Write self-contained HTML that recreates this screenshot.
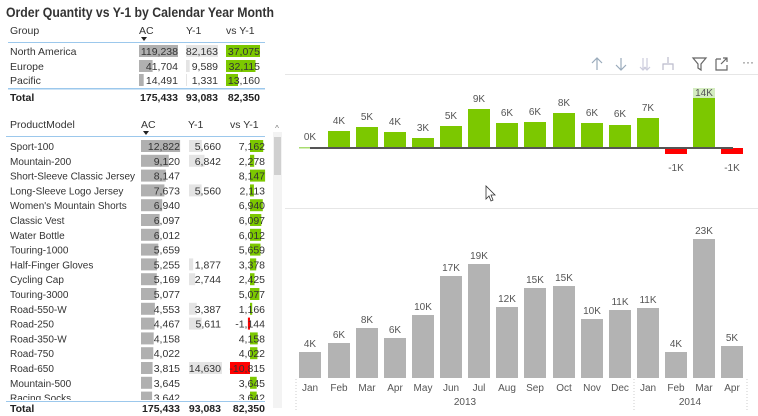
<!DOCTYPE html>
<html><head><meta charset="utf-8"><style>
html,body{margin:0;padding:0;background:#fff;}
svg{display:block;font-family:"Liberation Sans",sans-serif;}
.t{font-size:10.5px;fill:#333;}
.n{font-size:10px;fill:#333;}
.r{text-anchor:end;}
.b{font-weight:bold;fill:#222;}
.l{font-size:10px;fill:#555;text-anchor:middle;}
.ac{fill:#b0b0b0;}
.y1{fill:#e4e4e4;}
.g{fill:#7cc800;}
.rd{fill:#f00;}
</style></head><body>
<svg width="758" height="416" viewBox="0 0 758 416">
<text x="6" y="17" font-size="13.5" font-weight="bold" fill="#333" textLength="268" lengthAdjust="spacingAndGlyphs">Order Quantity vs Y-1 by Calendar Year Month</text>
<text class="t" x="10" y="34">Group</text><text class="t" x="139" y="34">AC</text><text class="t" x="186" y="34">Y-1</text><text class="t" x="226" y="34">vs Y-1</text>
<path d="M141 37 l6 0 l-3 4z" fill="#222"/>
<rect x="8" y="42" width="257" height="1" fill="#9cc8ec"/>
<rect class="ac" x="139" y="45" width="39" height="12"/><rect class="y1" x="186" y="45" width="32" height="12"/><rect class="g" x="226" y="45" width="34" height="12"/>
<rect class="ac" x="139" y="60" width="13.6" height="12"/><rect class="y1" x="186" y="60" width="3.7" height="12"/><rect class="g" x="226" y="60" width="29.5" height="12"/>
<rect class="ac" x="139" y="74" width="4.7" height="12"/><rect class="y1" x="186" y="74" width="1" height="12"/><rect class="g" x="226" y="74" width="12" height="12"/>
<text class="t" x="10" y="55">North America</text><text class="t r" x="178" y="55">119,238</text><text class="t r" x="218" y="55">82,163</text><text class="t r" x="260" y="55">37,075</text>
<text class="t" x="10" y="70">Europe</text><text class="t r" x="178" y="70">41,704</text><text class="t r" x="218" y="70">9,589</text><text class="t r" x="260" y="70">32,115</text>
<text class="t" x="10" y="84">Pacific</text><text class="t r" x="178" y="84">14,491</text><text class="t r" x="218" y="84">1,331</text><text class="t r" x="260" y="84">13,160</text>
<rect x="8" y="88" width="257" height="1.5" fill="#9cc8ec"/>
<text class="t b" x="10" y="101">Total</text><text class="t b r" x="178" y="101">175,433</text><text class="t b r" x="218" y="101">93,083</text><text class="t b r" x="260" y="101">82,350</text>
<text class="t" x="10" y="128">ProductModel</text><text class="t" x="141" y="128">AC</text><text class="t" x="188" y="128">Y-1</text><text class="t" x="230" y="128">vs Y-1</text>
<path d="M143 131 l6 0 l-3 4z" fill="#222"/>
<rect x="6" y="136" width="259" height="1" fill="#9cc8ec"/>
<rect x="273" y="132" width="9" height="276" fill="#f3f3f3"/><rect x="274" y="137" width="7" height="38" fill="#d0d0d0"/>
<text x="277" y="131" font-size="8" fill="#777" text-anchor="middle">^</text>
<defs><clipPath id="c"><rect x="0" y="138" width="272" height="262"/></clipPath></defs>
<g clip-path="url(#c)">
<g class="ac">
<rect x="141" y="140" width="39.1" height="12"/><rect x="141" y="154.8" width="27.8" height="12"/><rect x="141" y="169.6" width="24.8" height="12"/><rect x="141" y="184.4" width="23.4" height="12"/><rect x="141" y="199.2" width="21.2" height="12"/><rect x="141" y="214" width="18.6" height="12"/><rect x="141" y="228.8" width="18.3" height="12"/><rect x="141" y="243.6" width="17.3" height="12"/><rect x="141" y="258.4" width="16" height="12"/><rect x="141" y="273.2" width="15.8" height="12"/><rect x="141" y="288" width="15.5" height="12"/><rect x="141" y="302.8" width="13.9" height="12"/><rect x="141" y="317.6" width="13.6" height="12"/><rect x="141" y="332.4" width="12.7" height="12"/><rect x="141" y="347.2" width="12.3" height="12"/><rect x="141" y="362" width="11.6" height="12"/><rect x="141" y="376.8" width="11.1" height="12"/><rect x="141" y="391.6" width="11.1" height="12"/>
</g>
<g class="y1">
<rect x="189" y="140" width="12.8" height="12"/><rect x="189" y="154.8" width="15.5" height="12"/><rect x="189" y="184.4" width="12.6" height="12"/><rect x="189" y="258.4" width="4.2" height="12"/><rect x="189" y="273.2" width="6.2" height="12"/><rect x="189" y="302.8" width="7.7" height="12"/><rect x="189" y="317.6" width="12.7" height="12"/><rect x="189" y="362" width="33" height="12"/>
</g>
<g class="g">
<rect x="250" y="140" width="13.2" height="12"/><rect x="250" y="154.8" width="4.2" height="12"/><rect x="250" y="169.6" width="15.1" height="12"/><rect x="250" y="184.4" width="3.9" height="12"/><rect x="250" y="199.2" width="12.8" height="12"/><rect x="250" y="214" width="11.3" height="12"/><rect x="250" y="228.8" width="11.1" height="12"/><rect x="250" y="243.6" width="10.5" height="12"/><rect x="250" y="258.4" width="6.2" height="12"/><rect x="250" y="273.2" width="4.5" height="12"/><rect x="250" y="288" width="9.4" height="12"/><rect x="250" y="302.8" width="2.2" height="12"/><rect x="250" y="332.4" width="7.7" height="12"/><rect x="250" y="347.2" width="7.4" height="12"/><rect x="250" y="376.8" width="6.7" height="12"/><rect x="250" y="391.6" width="6.7" height="12"/>
</g>
<rect class="rd" x="247.9" y="317.6" width="2.1" height="12"/><rect class="rd" x="230" y="362" width="20" height="12"/>
<g class="n">
<text x="10" y="150">Sport-100</text><text x="10" y="164.8">Mountain-200</text><text x="10" y="179.6">Short-Sleeve Classic Jersey</text><text x="10" y="194.4">Long-Sleeve Logo Jersey</text><text x="10" y="209.2">Women's Mountain Shorts</text><text x="10" y="224">Classic Vest</text><text x="10" y="238.8">Water Bottle</text><text x="10" y="253.6">Touring-1000</text><text x="10" y="268.4">Half-Finger Gloves</text><text x="10" y="283.2">Cycling Cap</text><text x="10" y="298">Touring-3000</text><text x="10" y="312.8">Road-550-W</text><text x="10" y="327.6">Road-250</text><text x="10" y="342.4">Road-350-W</text><text x="10" y="357.2">Road-750</text><text x="10" y="372">Road-650</text><text x="10" y="386.8">Mountain-500</text><text x="10" y="401.6">Racing Socks</text>
</g>
<g class="t r">
<text x="180" y="150">12,822</text><text x="180" y="164.8">9,120</text><text x="180" y="179.6">8,147</text><text x="180" y="194.4">7,673</text><text x="180" y="209.2">6,940</text><text x="180" y="224">6,097</text><text x="180" y="238.8">6,012</text><text x="180" y="253.6">5,659</text><text x="180" y="268.4">5,255</text><text x="180" y="283.2">5,169</text><text x="180" y="298">5,077</text><text x="180" y="312.8">4,553</text><text x="180" y="327.6">4,467</text><text x="180" y="342.4">4,158</text><text x="180" y="357.2">4,022</text><text x="180" y="372">3,815</text><text x="180" y="386.8">3,645</text><text x="180" y="401.6">3,642</text>
<text x="221" y="150">5,660</text><text x="221" y="164.8">6,842</text><text x="221" y="194.4">5,560</text><text x="221" y="268.4">1,877</text><text x="221" y="283.2">2,744</text><text x="221" y="312.8">3,387</text><text x="221" y="327.6">5,611</text><text x="221" y="372">14,630</text>
<text x="265" y="150">7,162</text><text x="265" y="164.8">2,278</text><text x="265" y="179.6">8,147</text><text x="265" y="194.4">2,113</text><text x="265" y="209.2">6,940</text><text x="265" y="224">6,097</text><text x="265" y="238.8">6,012</text><text x="265" y="253.6">5,659</text><text x="265" y="268.4">3,378</text><text x="265" y="283.2">2,425</text><text x="265" y="298">5,077</text><text x="265" y="312.8">1,166</text><text x="265" y="327.6">-1,144</text><text x="265" y="342.4">4,158</text><text x="265" y="357.2">4,022</text><text x="265" y="372">-10,815</text><text x="265" y="386.8">3,645</text><text x="265" y="401.6">3,642</text>
</g>
</g>
<rect x="6" y="401" width="259" height="1" fill="#9cc8ec"/>
<text class="t b" x="10" y="412">Total</text><text class="t b r" x="180" y="412">175,433</text><text class="t b r" x="221" y="412">93,083</text><text class="t b r" x="265" y="412">82,350</text>
<g stroke="#9ab" stroke-width="1.2" fill="none">
<path d="M597 58 v12 M592 63 l5 -5 l5 5"/><path d="M621 58 v12 M616 65 l5 5 l5 -5"/>
<path d="M643 58 v12 M647 58 v12 M640 67 l3 3 l3 -3 M644 67 l3 3 l3 -3" stroke="#ccd"/>
<path d="M668 57 v6 M663 70 v-6 h10 v6" stroke="#bbc"/>
<path d="M693 58 h13 l-5 6 v6 l-3 -2 v-4z" stroke="#666"/>
<path d="M716 59 h5 M716 59 v11 h11 v-5 M721 64 l6 -6 M723 58 h4 v4" stroke="#666"/>
</g>
<text x="748" y="66" font-size="12" fill="#666" text-anchor="middle">···</text>
<rect x="285" y="74" width="473" height="1" fill="#e6e6e6"/>
<rect x="285" y="208" width="473" height="1" fill="#e6e6e6"/>
<rect x="299" y="147" width="11" height="1.5" fill="#a8dc70"/>
<g class="g">
<rect x="328" y="131" width="22" height="17"/><rect x="356" y="127" width="22" height="21"/><rect x="384" y="132" width="22" height="16"/><rect x="412" y="138" width="22" height="10"/><rect x="440" y="126" width="22" height="22"/><rect x="468" y="109" width="22" height="39"/><rect x="496" y="123" width="22" height="25"/><rect x="524" y="122" width="22" height="26"/><rect x="553" y="113" width="22" height="35"/><rect x="581" y="123" width="22" height="25"/><rect x="609" y="125" width="22" height="23"/><rect x="637" y="118" width="22" height="30"/><rect x="693" y="98" width="22" height="50"/>
</g>
<rect x="693" y="88" width="22" height="10" fill="#d4ecc0"/>
<rect class="rd" x="665" y="148" width="22" height="6"/><rect class="rd" x="721" y="148" width="22" height="6"/>
<rect x="310" y="147" width="423" height="2" fill="#555"/>
<g class="l">
<text x="310" y="140">0K</text><text x="339" y="124">4K</text><text x="367" y="120">5K</text><text x="395" y="125">4K</text><text x="423" y="131">3K</text><text x="451" y="119">5K</text><text x="479" y="102">9K</text><text x="507" y="116">6K</text><text x="535" y="115">6K</text><text x="564" y="106">8K</text><text x="592" y="116">6K</text><text x="620" y="117">6K</text><text x="648" y="111">7K</text><text x="676" y="171">-1K</text><text x="704" y="96">14K</text><text x="732" y="171">-1K</text>
</g>
<path d="M486 186 v13 l3 -3 l2 5 l2 -1 l-2 -5 h4z" fill="#fff" stroke="#333" stroke-width="0.8"/>
<g fill="#b3b3b3">
<rect x="299" y="352" width="22" height="26"/><rect x="328" y="343" width="22" height="35"/><rect x="356" y="328" width="22" height="50"/><rect x="384" y="338" width="22" height="40"/><rect x="412" y="315" width="22" height="63"/><rect x="440" y="276" width="22" height="102"/><rect x="468" y="264" width="22" height="114"/><rect x="496" y="307" width="22" height="71"/><rect x="524" y="288" width="22" height="90"/><rect x="553" y="286" width="22" height="92"/><rect x="581" y="319" width="22" height="59"/><rect x="609" y="310" width="22" height="68"/><rect x="637" y="308" width="22" height="70"/><rect x="665" y="352" width="22" height="26"/><rect x="693" y="239" width="22" height="139"/><rect x="721" y="346" width="22" height="32"/>
</g>
<g class="l">
<text x="310" y="347">4K</text><text x="339" y="338">6K</text><text x="367" y="323">8K</text><text x="395" y="333">6K</text><text x="423" y="310">10K</text><text x="451" y="271">17K</text><text x="479" y="259">19K</text><text x="507" y="302">12K</text><text x="535" y="283">15K</text><text x="564" y="281">15K</text><text x="592" y="314">10K</text><text x="620" y="305">11K</text><text x="648" y="303">11K</text><text x="676" y="347">4K</text><text x="704" y="234">23K</text><text x="732" y="341">5K</text>
<text x="310" y="391">Jan</text><text x="339" y="391">Feb</text><text x="367" y="391">Mar</text><text x="395" y="391">Apr</text><text x="423" y="391">May</text><text x="451" y="391">Jun</text><text x="479" y="391">Jul</text><text x="507" y="391">Aug</text><text x="535" y="391">Sep</text><text x="564" y="391">Oct</text><text x="592" y="391">Nov</text><text x="620" y="391">Dec</text><text x="648" y="391">Jan</text><text x="676" y="391">Feb</text><text x="704" y="391">Mar</text><text x="732" y="391">Apr</text>
<text x="465" y="405">2013</text><text x="690" y="405">2014</text>
</g>
<g stroke="#ccc" stroke-dasharray="1,2" stroke-width="1">
<path d="M296 379 v31 M634 379 v31 M747 379 v31"/>
</g>
</svg>
</body></html>
